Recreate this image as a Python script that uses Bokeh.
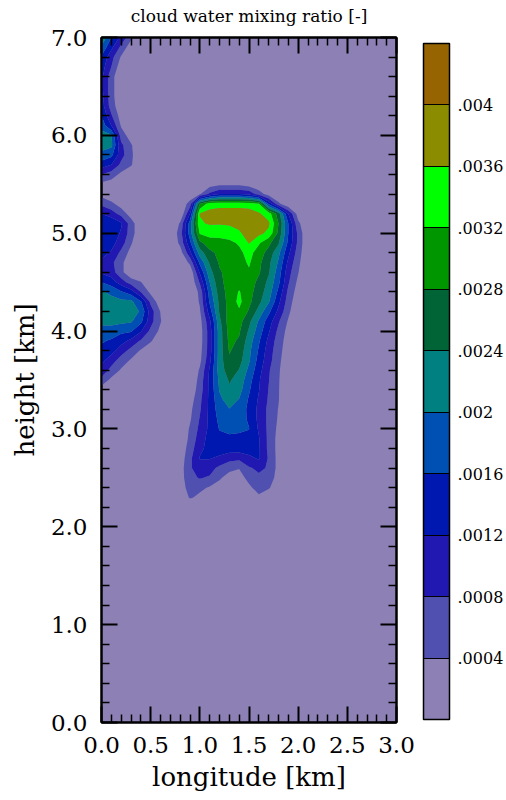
import numpy as np
from bokeh.plotting import figure
from bokeh.models import (Range1d, LinearAxis, FixedTicker, PrintfTickFormatter,
                          ColorBar, LinearColorMapper, CustomJSTickFormatter)
from bokeh.embed import file_html
from bokeh.resources import INLINE

# ---------------- data ----------------
LON_KM = np.round(np.arange(0.0, 3.0001, 0.1), 1)      # 31 grid columns
HEIGHT_KM = np.round(np.arange(0.0, 7.0001, 0.1), 1)   # 71 grid rows

# cloud water mixing ratio, in units of 1e-4.
# each row starts at x = 0.0 km, step 0.1 km; columns not listed are 0
QC_E4 = {
    7.0: [24, 16, 11, 5],
    6.9: [19, 13, 7, 1.5],
    6.8: [15.5, 9.5, 3.5],
    6.7: [14, 8, 1.5],
    6.6: [13, 5.5, 0.5],
    6.5: [13, 5.5, 0.5],
    6.4: [13.5, 5.5, 0.5],
    6.3: [14, 6, 1],
    6.2: [16, 8.5, 2],
    6.1: [18.5, 12, 3.5, 0.5],
    6.0: [21.5, 20.5, 6, 2],
    5.9: [21.5, 21, 9, 4.5],
    5.8: [19, 17, 9.5, 5],
    5.7: [14, 12, 7, 4.5],
    5.6: [8, 6, 3, 1],
    5.5: [3, 2, 0, 0, 0, 0, 0, 0, 0, 0, 1, 2, 3, 3, 3, 2, 1],
    5.4: [2.5, 1, 0, 0, 0, 0, 0, 0, 0, 0, 3.5, 9, 12, 12, 12, 11, 6, 2],
    5.3: [7, 5, 2, 0, 0, 0, 0, 0, 0, 6, 28, 34, 34.5, 34.5, 34.5, 34, 32, 15, 5],
    5.2: [12, 10, 6.5, 2, 0, 0, 0, 0, 0, 12, 36.2, 37.5, 38, 38, 38, 38, 36.5, 34, 26, 12, 2],
    5.1: [15, 15, 12.5, 6, 0.5, 0, 0, 0, 4.5, 18, 35.5, 36.4, 36.3, 36.5, 37, 38, 38, 36.7, 28, 16, 5],
    5.0: [15.5, 14.5, 11.5, 6, 0.5, 0, 0, 0, 6, 18, 32.5, 33.5, 33.5, 34, 35.5, 37.5, 37, 35, 27, 16, 7],
    4.9: [15, 13.5, 10, 4.5, 0, 0, 0, 0, 5, 15, 27, 30, 30.5, 31, 32.5, 36.2, 32.5, 29, 24.5, 15, 7],
    4.8: [13.5, 11.5, 7, 2.5, 0, 0, 0, 0, 2, 11, 22, 27, 29, 30, 31, 33.5, 30, 26.5, 21, 13, 6],
    4.7: [11, 9, 5, 1, 0, 0, 0, 0, 0, 5, 17, 24.5, 28.5, 29.5, 30.5, 32.5, 29, 25, 19.5, 11, 5],
    4.6: [11.5, 10, 5, 1, 0, 0, 0, 0, 0, 0.5, 12.5, 22.5, 27.5, 29.5, 31, 31.5, 28.5, 24.5, 18, 9.5, 4.2],
    4.5: [16, 14, 10, 6, 4.2, 0.5, 0, 0, 0, 0, 8.5, 20, 27, 29.5, 30.5, 30, 27, 23, 17, 8.5, 3],
    4.4: [20.5, 19, 16.5, 14, 8, 3, 0, 0, 0, 0, 5, 18, 26, 29.5, 32.3, 29.5, 26, 22, 15, 7, 2],
    4.3: [22.5, 21.5, 21, 21, 16.5, 7, 1.5, 0, 0, 0, 4.5, 16.5, 25, 29.5, 33, 29, 25, 20.5, 13, 6, 1],
    4.2: [23, 22.5, 22.5, 22, 19.5, 10, 3.8, 0, 0, 0, 3.5, 14, 24.5, 29.5, 31.5, 27.5, 22.5, 17, 11, 5],
    4.1: [21.5, 21.5, 21, 20.5, 17, 9.5, 4.3, 0, 0, 0, 2.5, 11, 23, 30, 29.5, 25, 19.5, 14, 8.5, 3.5],
    4.0: [18, 18, 17, 16.5, 12.5, 7, 3, 0, 0, 0, 2, 10, 22, 29.5, 28.5, 23.5, 18, 12.5, 7, 2.5],
    3.9: [16.5, 15.5, 13.5, 11, 7.5, 4.5, 1, 0, 0, 0, 2, 10, 22, 29, 27.5, 22, 16.5, 11, 6, 2],
    3.8: [15, 13.5, 10, 6.5, 3.5, 1, 0, 0, 0, 0, 2.5, 10, 22, 28.3, 26.5, 21, 15.5, 10, 5.5, 1.5],
    3.7: [13, 10, 6, 3.5, 1, 0, 0, 0, 0, 0, 3, 11, 22, 27.5, 25.5, 20.5, 14.5, 9.5, 5, 1],
    3.6: [11, 6.5, 3.5, 0.5, 0, 0, 0, 0, 0, 0, 4.5, 12.5, 22, 26, 23.8, 19, 13.5, 8.5, 4.5, 1],
    3.5: [6.5, 3, 0, 0, 0, 0, 0, 0, 0, 0, 5.5, 13, 21, 24.4, 22.5, 17.5, 12.5, 8.2, 4.3, 1],
    3.4: [2, 0, 0, 0, 0, 0, 0, 0, 0, 1, 6, 13, 20.3, 23.5, 21.5, 16.5, 12.2, 7.8, 4.2, 1],
    3.3: [0, 0, 0, 0, 0, 0, 0, 0, 0, 2, 7, 13, 19, 22, 19.8, 15.5, 11.5, 7.5, 4.2, 0.5],
    3.2: [0, 0, 0, 0, 0, 0, 0, 0, 0, 3, 7.5, 13, 18, 19.8, 18.5, 15, 11, 7, 3.8],
    3.1: [0, 0, 0, 0, 0, 0, 0, 0, 0, 3.5, 8.3, 13, 17, 18.5, 17.5, 15.5, 11, 7, 3.5],
    3.0: [0, 0, 0, 0, 0, 0, 0, 0, 0.5, 4.5, 9, 13, 16.2, 16.8, 16.5, 16.1, 11.5, 7, 3],
    2.9: [0, 0, 0, 0, 0, 0, 0, 0, 0.5, 5, 10, 13.5, 15, 15.3, 15.3, 15, 12.3, 7, 2.5],
    2.8: [0, 0, 0, 0, 0, 0, 0, 0, 1, 6, 11, 13.5, 14.5, 14, 14, 14, 12.5, 7, 2.5],
    2.7: [0, 0, 0, 0, 0, 0, 0, 0, 1.5, 7, 12.3, 12.3, 11, 9.5, 9, 11, 12.5, 7.5, 2.5],
    2.6: [0, 0, 0, 0, 0, 0, 0, 0, 2, 7.5, 10, 9.5, 7, 5, 4.2, 7.5, 9, 7.5, 2.5],
    2.5: [0, 0, 0, 0, 0, 0, 0, 0, 2, 7, 8.3, 7.5, 4.5, 2.5, 2, 5.5, 7, 6.5, 2],
    2.4: [0, 0, 0, 0, 0, 0, 0, 0, 1.5, 6, 5, 3.5, 2.5, 1, 0.5, 3, 6, 4.5, 1],
    2.3: [0, 0, 0, 0, 0, 0, 0, 0, 0.5, 4.5, 3, 2, 1, 0, 0, 1.5, 3, 1],
}

LEVELS = [0.0004, 0.0008, 0.0012, 0.0016, 0.0020, 0.0024,
          0.0028, 0.0032, 0.0036, 0.0040, 0.0044]
COLORS = ["#8C80B4", "#5050B0", "#2018B0", "#0018B0", "#0050B4", "#008080",
          "#006437", "#009600", "#00FF00", "#8C8C00", "#966400"]

TITLE = "cloud water mixing ratio [-]"
X_TICKS = [0.0, 0.5, 1.0, 1.5, 2.0, 2.5, 3.0]
X_MINOR = [0.1, 0.2, 0.3, 0.4, 0.6, 0.7, 0.8, 0.9, 1.1, 1.2, 1.3, 1.4,
           1.6, 1.7, 1.8, 1.9, 2.1, 2.2, 2.3, 2.4, 2.6, 2.7, 2.8, 2.9]
Y_TICKS = [0, 1, 2, 3, 4, 5, 6, 7]
Y_MINOR = [0.2, 0.4, 0.6, 0.8, 1.2, 1.4, 1.6, 1.8, 2.2, 2.4, 2.6, 2.8,
           3.2, 3.4, 3.6, 3.8, 4.2, 4.4, 4.6, 4.8, 5.2, 5.4, 5.6, 5.8,
           6.2, 6.4, 6.6, 6.8]

# ---------------- field ----------------
Z = np.zeros((len(HEIGHT_KM), len(LON_KM)))
for yk, row in QC_E4.items():
    j = int(round(yk * 10))
    Z[j, :len(row)] = row
Z = Z * 1e-4

FONT = "DejaVu Serif"

p = figure(width=506, height=800, x_range=Range1d(0, 3), y_range=Range1d(0, 7),
           output_backend="svg", toolbar_location=None,
           min_border_left=101, min_border_right=110,
           min_border_top=37, min_border_bottom=78,
           background_fill_color=COLORS[0], border_fill_color="white")

p.contour(LON_KM, HEIGHT_KM, Z, levels=LEVELS, fill_color=COLORS[1:], line_color=None)

p.grid.visible = False
p.outline_line_color = "black"
p.outline_line_width = 2

def style_axis(ax, show_labels):
    ax.axis_line_width = 2
    ax.axis_line_color = "black"
    ax.major_tick_in = 16
    ax.major_tick_out = 0
    ax.minor_tick_in = 8
    ax.minor_tick_out = 0
    ax.major_tick_line_width = 2
    ax.minor_tick_line_width = 1.5
    ax.major_tick_line_color = "black"
    ax.minor_tick_line_color = "black"
    ax.axis_label_text_font = FONT
    ax.axis_label_text_font_style = "normal"
    ax.axis_label_text_color = "black"
    if show_labels:
        ax.major_label_text_font = FONT
        ax.major_label_text_font_size = "23px"
        ax.major_label_text_color = "black"
        ax.axis_label_text_font_size = "26px"
    else:
        ax.major_label_text_font_size = "1px"
        ax.major_label_text_color = None
        ax.major_label_standoff = 0

xt = FixedTicker(ticks=X_TICKS, minor_ticks=X_MINOR)
yt = FixedTicker(ticks=Y_TICKS, minor_ticks=Y_MINOR)

p.xaxis.ticker = xt
p.yaxis.ticker = yt
p.xaxis.formatter = PrintfTickFormatter(format="%.1f")
p.yaxis.formatter = PrintfTickFormatter(format="%.1f")
p.xaxis.axis_label = "longitude [km]"
p.yaxis.axis_label = "height [km]"
style_axis(p.xaxis[0], True)
style_axis(p.yaxis[0], True)
p.xaxis.major_label_standoff = 14
p.yaxis.major_label_standoff = 14
p.xaxis.axis_label_standoff = 6
p.yaxis.axis_label_standoff = 8

# top axis: ticks only, its axis label carries the chart title
top_ax = LinearAxis(ticker=FixedTicker(ticks=X_TICKS, minor_ticks=X_MINOR))
right_ax = LinearAxis(ticker=FixedTicker(ticks=Y_TICKS, minor_ticks=Y_MINOR))
style_axis(top_ax, False)
style_axis(right_ax, False)
top_ax.axis_label = TITLE
top_ax.axis_label_text_font_size = "17px"
top_ax.axis_label_standoff = 12
p.add_layout(top_ax, "above")
p.add_layout(right_ax, "right")

mapper = LinearColorMapper(palette=COLORS, low=0.0, high=0.0044)
cb = ColorBar(color_mapper=mapper,
              ticker=FixedTicker(ticks=LEVELS[:-1], minor_ticks=[]),
              formatter=CustomJSTickFormatter(
                  code="return tick.toFixed(4).replace(/^0/, '').replace(/0+$/, '')"),
              width=26, height=676, padding=0, margin=0,
              location=(322, 3),
              bar_line_color="black", bar_line_width=1.5,
              major_tick_in=26, major_tick_out=0,
              major_tick_line_color="black", major_tick_line_width=1.2,
              minor_tick_line_color=None,
              label_standoff=8,
              major_label_text_font=FONT, major_label_text_font_size="16px",
              major_label_text_color="black",
              background_fill_color=None, border_line_color=None)
p.add_layout(cb, "center")

open("out.html", "w").write(file_html(p, INLINE))
